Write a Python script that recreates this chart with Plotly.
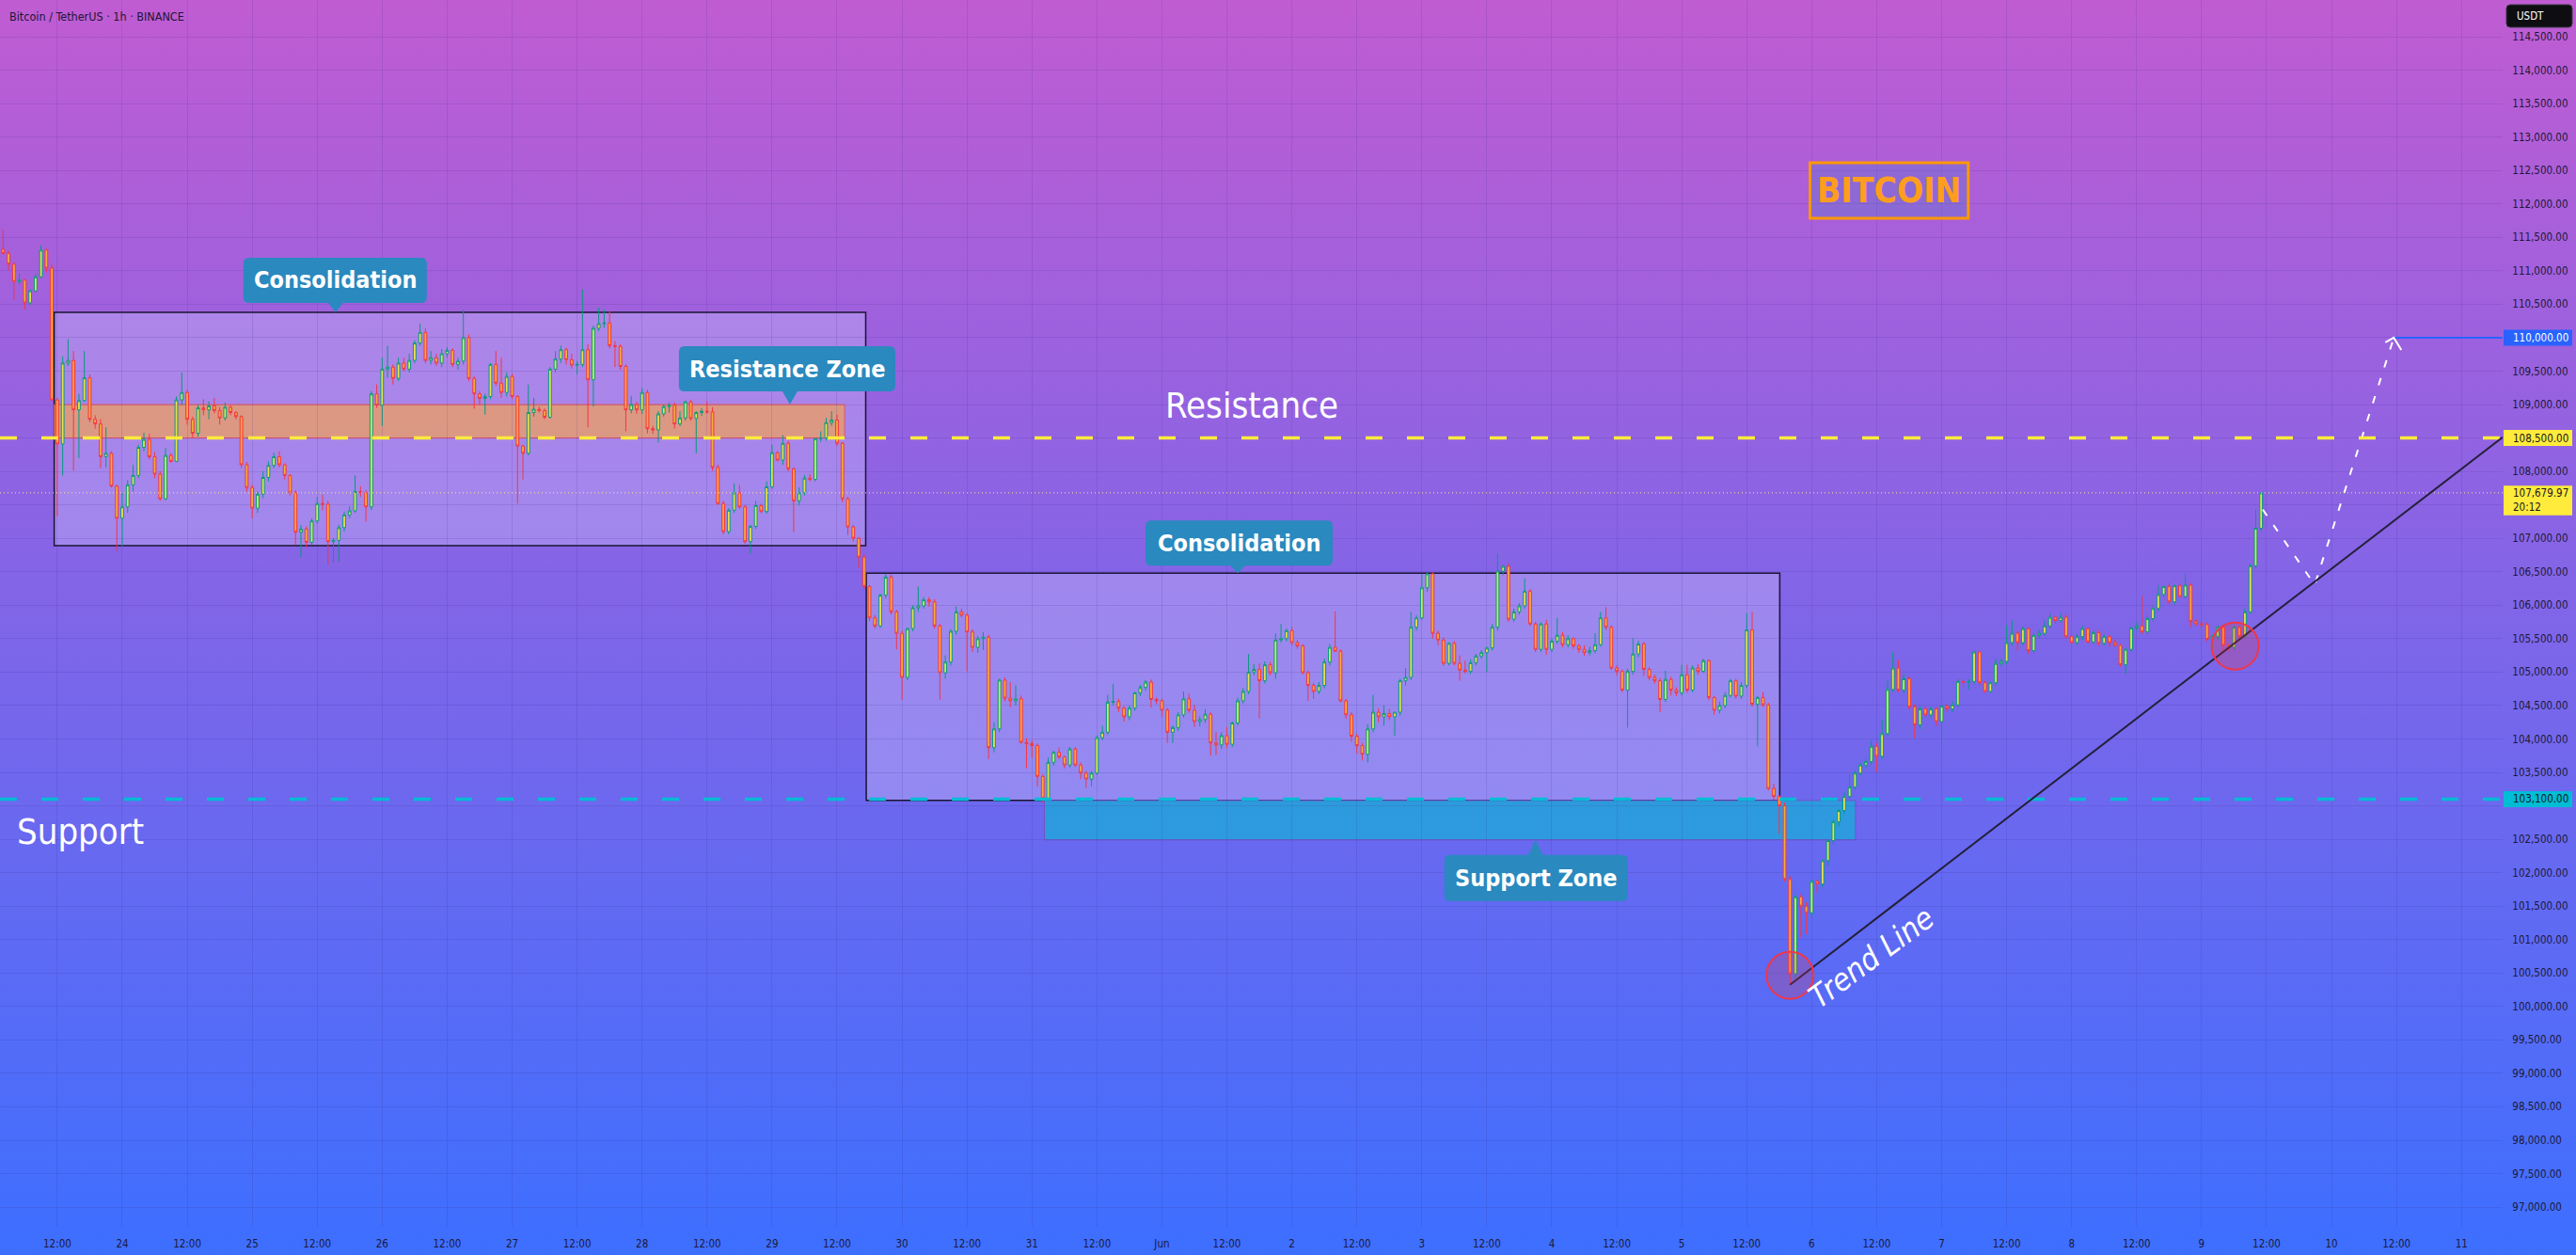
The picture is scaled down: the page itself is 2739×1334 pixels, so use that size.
import base64
import pandas as pd
import plotly.graph_objects as go

# ---------------------------------------------------------------- data
CANDLE_START = "2025-05-23 02:00"   # first visible hourly candle (BTC/USDT 1h)

opens = (
    [111320,111260,111100,110840,110860,110520,110700,110910,111310,111040,109070,108410,109620,109660,108920,109060,109400,108780,108710,108220,108270,107780]
  + [107300,107470,107800,107940,108360,108480,108220,107960,107590,108240,108150,109070,109180,108780,108570,108950,108920,108980,108910,108800,108960,108880,108820,108100]
  + [107760,107450,107660,107910,108090,108220,108100,107940,107680,107090,107140,106940,107260,107520,107510,106950,106970,107160,107350,107410,107700,107680,107470,109160]
  + [108990,109530,109560,109390,109620,109530,109660,109920,110080,109660,109700,109620,109760,109810,109600,109650,110000,109390,109160,109090,109120,109600,109320,109180]
  + [109420,109120,108380,108270,108880,108930,108910,108810,109530,109680,109820,109670,109590,109600,109820,109370,110140,110210,110220,109880,109870,109570,108920,109000]
  + [108920,109180,108640,108620,108860,108970,108990,108710,108800,109040,108790,108880,108900,108890,108060,107520,107100,107420,107680,107470,106950,107180,107490,107400]
  + [107770,108280,108170,108420,108040,107560,107680,107900,107880,108490,108500,108730,108770,108420,107590,107170,107000,106720,106280,105810,105690,106150,106420,105900]
  + [105580,104920,105650,105960,105990,106080,106050,105690,104990,105150,105610,105900,105850,105600,105370,105500,105520,103870,104150,104880,104610,104570,104600,103950]
  + [103930,103900,103440,103110,103650,103800,103730,103610,103850,103610,103490,103400,103490,104020,104100,104550,104560,104460,104330,104460,104690,104770,104850,104590]
  + [104570,104430,104100,104170,104360,104600,104430,104260,104290,104370,103940,103910,104050,103920,104240,104570,104710,105000,105040,104870,105110,104990,105480,105500]
  + [105620,105440,105390,104990,104800,104710,104800,105150,105370,105310,104570,104360,104040,103900,103770,104150,104400,104330,104380,104330,104400,104870,104920,105670]
  + [105810,106260,106470,105580,105480,105130,105430,105130,105030,105010,105140,105240,105290,105360,105670,106510,106580,105790,105900,105990,106210,105720,105340,105720]
  + [105340,105460,105550,105410,105500,105390,105340,105290,105320,105410,105810,105670,105060,105010,104730,105010,105270,105420,105040,104920,104870,104590,104890,104730]
  + [104690,104960,104730,105060,105010,105170,104620,104430,104500,104650,104870,104640,104800,105630,104520,104620,104510,103260,103140,103000,101900,100490,101640,101500]
  + [101400,101870,101830,102180,102480,102760,102930,103140,103280,103490,103610,103660,103890,103740,104080,104740,105060,104730,104900,104480,104210,104450,104360,104450]
  + [104260,104490,104450,104510,104860,104850,104860,105300,104840,104710,104840,105130,105160,105440,105580,105440,105650,105320,105550,105580,105690,105820,105770,105820]
  + [105530,105440,105530,105650,105450,105590,105430,105530,105440,105400,105110,105340,105660,105690,105600,105800,105950,106160,106280,106050,106290,106130,106300,105760]
  + [105720,105710,105490,105530,105670,105400,105370,105670,105530,105900,106590,107150]
)
highs = (
    [111610,111300,111120,110960,110880,110720,110960,111380,111330,111090,109100,109720,109980,109800,109160,109800,109450,108840,108780,108660,108300,107800]
  + [107680,107870,108100,108400,108580,108560,108290,108000,108350,108270,109120,109480,109220,108820,109000,109080,109050,109100,108960,109030,108990,108900,108840,108140]
  + [107800,107700,108000,108150,108280,108300,108120,107960,107720,107200,107180,107300,107620,107650,107560,107000,107200,107400,107480,107940,107780,107720,109200,109300]
  + [109700,109880,109600,109700,109700,109760,109960,110210,110140,109800,109760,109830,109860,109840,109700,110420,110050,109420,109200,109160,109620,109800,109700,109480]
  + [109460,109140,108400,109300,109100,108970,108940,109560,109800,109880,109850,109760,109650,110720,109900,110180,110450,110420,110400,109950,109900,109600,109130,109040]
  + [109250,109220,108680,108900,109000,109030,109030,108900,109060,109070,108900,108950,109050,108960,108100,107560,107450,107820,107800,107500,107200,107560,107520,107850]
  + [108400,108300,108540,108460,108060,107760,107950,107960,108500,108600,108800,108900,108850,108440,107620,107200,107020,106760,106300,105850,106170,106470,106460,105930]
  + [105620,105660,106000,106280,106120,106120,106090,105720,105250,105640,105980,105950,105880,105640,105540,105600,105560,104250,104900,104920,104850,104800,104650,104010]
  + [103980,103930,103470,103720,103820,103870,103750,103880,103880,103650,103520,103520,104050,104200,104660,104820,104600,104490,104500,104700,104810,104880,104890,104620]
  + [104600,104460,104200,104400,104710,104680,104510,104340,104450,104400,104100,104100,104180,104260,104620,104760,105270,105120,105130,105160,105150,105580,105720,105650]
  + [105680,105480,105420,105020,104840,104850,105200,105420,105910,105340,104600,104400,104080,103940,104220,104660,104460,104500,104450,104400,104900,105060,105900,105850]
  + [106470,106480,106490,105620,105520,105440,105460,105250,105170,105190,105270,105330,105380,105720,106770,106600,106620,105950,106030,106400,106240,105750,105740,105780]
  + [105500,105810,105600,105550,105520,105420,105400,105380,105580,105900,105970,105700,105100,105040,105050,105510,105470,105450,105070,104960,104910,105020,104930,104770]
  + [105110,105110,105100,105120,105200,105190,104640,104560,104700,104900,104900,104850,105880,105900,104640,104700,104540,103330,103160,103050,101950,101660,101680,101560]
  + [101900,101900,102200,102500,102790,102950,103210,103470,103520,103640,103700,103980,103940,104290,104870,105300,105180,104970,104940,104520,104490,104490,104480,104480]
  + [104520,104530,104560,104900,104900,104900,105310,105320,104870,104860,105200,105200,105700,105770,105620,105680,105660,105580,105640,105770,105880,105840,105880,105860]
  + [105560,105570,105690,105670,105620,105620,105560,105560,105490,105420,105350,105670,105740,106140,105840,105980,106300,106300,106330,106310,106320,106470,106330,105790]
  + [105750,105740,105560,105700,105700,105420,105700,105700,105950,106620,107430,107690]
)
lows = (
    [111240,111010,110560,110800,110420,110490,110680,110890,110980,109050,107330,107940,109580,108010,108200,109040,108740,108640,108050,108060,107760,106810]
  + [106880,107380,107700,107900,108300,108180,107900,107560,107570,108130,108140,109000,108700,108500,108520,108840,108780,108870,108700,108760,108840,108780,108050,107700]
  + [107300,107380,107600,107850,108050,108060,107880,107640,106900,106720,106860,106900,107220,107420,106600,106640,106650,107100,107300,107380,107620,107250,107420,108950]
  + [108680,109400,109300,109350,109500,109480,109620,109880,109620,109600,109580,109560,109700,109560,109520,109600,109350,108940,109000,108850,109080,109280,109100,109120]
  + [109080,107520,107880,108240,108820,108880,108780,108790,109480,109620,109600,109540,109450,109560,108660,108970,110100,110150,109840,109560,109520,108600,108870,108860]
  + [108860,108570,108560,108430,108820,108880,108640,108680,108760,108760,108270,108830,108860,108010,107500,107060,107060,107380,107440,106920,106770,107140,107380,107370]
  + [107740,108150,108100,108000,107090,107490,107640,107850,107850,108440,108460,108680,108380,107540,107050,106950,106560,106230,105760,105650,105660,106100,105860,105340]
  + [104590,104880,105610,105900,105950,105980,105650,104590,104900,105100,105560,105820,105010,105300,105290,105330,103700,103800,104100,104560,104480,104500,103930,103560]
  + [103720,103290,103050,103080,103600,103700,103560,103570,103580,103400,103270,103290,103460,103980,104060,104500,104400,104260,104280,104420,104640,104720,104470,104520]
  + [104330,103940,103940,104120,104320,104390,104180,104190,104240,103750,103760,103850,103860,103880,104200,104530,104670,104950,104310,104830,104950,104900,105440,105460]
  + [105400,105350,104970,104570,104600,104670,104760,105100,105300,104550,104300,103960,103780,103680,103650,104100,104250,104200,104280,104050,104350,104800,104880,105620]
  + [105780,106200,105500,105400,105090,105100,105100,104870,104980,104970,105100,105200,105000,105320,105620,106450,105750,105750,105860,105950,105690,105300,105300,105260]
  + [105300,105420,105370,105370,105350,105290,105240,105250,105280,105380,105630,105030,104950,104700,104170,104960,105220,104940,104880,104830,104400,104550,104650,104640]
  + [104650,104690,104700,104960,104990,104580,104360,104380,104460,104620,104600,104600,104760,104480,103890,104480,103230,103090,102580,101870,100330,100420,101030,101080]
  + [101350,101700,101780,102100,102420,102700,102880,103100,103240,103450,103560,103620,103510,103700,104040,104700,104700,104680,104440,104010,104150,104320,104310,104190]
  + [103860,104400,104400,104470,104780,104740,104820,104800,104690,104690,104800,105090,105120,105400,105320,105400,105270,105280,105500,105540,105650,105730,105740,105500]
  + [105410,105400,105480,105430,105420,105400,105400,105380,105380,105080,104970,105300,105620,105570,105560,105760,105910,106120,106020,106010,106110,106100,105670,105690]
  + [105660,105460,105300,105480,105290,105320,105330,105480,105500,105870,106550,107100]
)
closes = (
    [111260,111100,110840,110860,110520,110700,110910,111310,111040,109070,108410,109620,109660,108920,109060,109400,108780,108710,108220,108270,107780,107300]
  + [107470,107800,107940,108360,108480,108220,107960,107590,108240,108150,109070,109180,108780,108570,108950,108920,108980,108910,108800,108960,108880,108820,108100,107760]
  + [107450,107660,107910,108090,108220,108100,107940,107680,107090,107140,106940,107260,107520,107510,106950,106970,107160,107350,107410,107700,107680,107470,109160,108990]
  + [109530,109560,109390,109620,109530,109660,109920,110080,109660,109700,109620,109760,109810,109600,109650,110000,109390,109160,109090,109120,109600,109320,109180,109420]
  + [109120,108380,108270,108880,108930,108910,108810,109530,109680,109820,109670,109590,109600,109820,109370,110140,110210,110220,109880,109870,109570,108920,109000,108920]
  + [109180,108640,108620,108860,108970,108990,108710,108800,109040,108790,108880,108900,108890,108060,107520,107100,107420,107680,107470,106950,107180,107490,107400,107770]
  + [108280,108170,108420,108040,107560,107680,107900,107880,108490,108500,108730,108770,108420,107590,107170,107000,106720,106280,105810,105690,106150,106420,105900,105580]
  + [104920,105650,105960,105990,106080,106050,105690,104990,105150,105610,105900,105850,105600,105370,105500,105520,103870,104150,104880,104610,104570,104600,103950,103930]
  + [103900,103440,103110,103650,103800,103730,103610,103850,103610,103490,103400,103490,104020,104100,104550,104560,104460,104330,104460,104690,104770,104850,104590,104570]
  + [104430,104100,104170,104360,104600,104430,104260,104290,104370,103940,103910,104050,103920,104240,104570,104710,105000,105040,104870,105110,104990,105480,105500,105620]
  + [105440,105390,104990,104800,104710,104800,105150,105370,105310,104570,104360,104040,103900,103770,104150,104400,104330,104380,104330,104400,104870,104920,105670,105810]
  + [106260,106470,105580,105480,105130,105430,105130,105030,105010,105140,105240,105290,105360,105670,106510,106580,105790,105900,105990,106210,105720,105340,105720,105340]
  + [105460,105550,105410,105500,105390,105340,105290,105320,105410,105810,105670,105060,105010,104730,105010,105270,105420,105040,104920,104870,104590,104890,104730,104690]
  + [104960,104730,105060,105010,105170,104620,104430,104500,104650,104870,104640,104800,105630,104520,104620,104510,103260,103140,103000,101900,100490,101640,101500,101400]
  + [101870,101830,102180,102480,102760,102930,103140,103280,103490,103610,103660,103890,103740,104080,104740,105060,104730,104900,104480,104210,104450,104360,104450,104260]
  + [104490,104450,104510,104860,104850,104860,105300,104840,104710,104840,105130,105160,105440,105580,105440,105650,105320,105550,105580,105690,105820,105770,105820,105530]
  + [105440,105530,105650,105450,105590,105430,105530,105440,105400,105110,105340,105660,105690,105600,105800,105950,106160,106280,106050,106290,106130,106300,105760,105720]
  + [105710,105490,105530,105670,105400,105370,105670,105530,105900,106590,107150,107679.97]
)
assert len(opens) == len(highs) == len(lows) == len(closes)

x_tick_times = [
    "2025-05-23 12:00", "2025-05-24 00:00", "2025-05-24 12:00", "2025-05-25 00:00", "2025-05-25 12:00",
    "2025-05-26 00:00", "2025-05-26 12:00", "2025-05-27 00:00", "2025-05-27 12:00", "2025-05-28 00:00",
    "2025-05-28 12:00", "2025-05-29 00:00", "2025-05-29 12:00", "2025-05-30 00:00", "2025-05-30 12:00",
    "2025-05-31 00:00", "2025-05-31 12:00", "2025-06-01 00:00", "2025-06-01 12:00", "2025-06-02 00:00",
    "2025-06-02 12:00", "2025-06-03 00:00", "2025-06-03 12:00", "2025-06-04 00:00", "2025-06-04 12:00",
    "2025-06-05 00:00", "2025-06-05 12:00", "2025-06-06 00:00", "2025-06-06 12:00", "2025-06-07 00:00",
    "2025-06-07 12:00", "2025-06-08 00:00", "2025-06-08 12:00", "2025-06-09 00:00", "2025-06-09 12:00",
    "2025-06-10 00:00", "2025-06-10 12:00", "2025-06-11 00:00"]
x_tick_labels = [
    "12:00", "24", "12:00", "25", "12:00", "26", "12:00", "27", "12:00", "28", "12:00", "29",
    "12:00", "30", "12:00", "31", "12:00", "Jun", "12:00", "2", "12:00", "3", "12:00", "4",
    "12:00", "5", "12:00", "6", "12:00", "7", "12:00", "8", "12:00", "9", "12:00", "10", "12:00", "11"]
y_tick_values = [
    97000, 97500, 98000, 98500, 99000, 99500, 100000, 100500, 101000, 101500, 102000, 102500,
    103000, 103500, 104000, 104500, 105000, 105500, 106000, 106500, 107000, 107500, 108000, 108500,
    109000, 109500, 110000, 110500, 111000, 111500, 112000, 112500, 113000, 113500, 114000, 114500]
# axis prices that sit under a coloured price tag in the reference
y_ticks_under_tags = [103000, 107500, 108500, 110000]
y_tick_labels = ["" if v in y_ticks_under_tags else f"{v:,.2f}" for v in y_tick_values]

RESISTANCE = 108500
SUPPORT = 103100
TARGET = 110000
LAST_PRICE = 107679.97
COUNTDOWN = "20:12"

consolidation_1 = dict(start="2025-05-23 11:26", end="2025-05-29 17:18", low=106890, high=110380)
resistance_zone = dict(start="2025-05-23 11:26", end="2025-05-29 13:24", low=108500, high=109000)
consolidation_2 = dict(start="2025-05-29 17:24", end="2025-06-05 18:06", low=103080, high=106480)
support_zone = dict(start="2025-05-31 02:18", end="2025-06-06 08:06", low=102490, high=103080)
trend_line = dict(t0="2025-06-05 20:00", p0=100325, t1="2025-06-11 07:36", p1=108510)
touch_points = [("2025-06-05 20:00", 100466), ("2025-06-09 06:12", 105390)]
projection_times = ["2025-06-09 11:18", "2025-06-09 20:54", "2025-06-10 11:30"]
projection_prices = [107430, 106304, 110000]
bitcoin_box = dict(start="2025-06-05 23:42", end="2025-06-07 04:54", low=111785, high=112615)

X_RANGE = ["2025-05-23 01:25:30", "2025-06-11 07:36"]
Y_RANGE = [96706, 115049]

# ---------------------------------------------------------------- style
W, H = 2739, 1334
M_R, M_B = 78, 30
TOP_COL, BOT_COL = "#C05CD2", "#3D6FFF"
GRID = "rgba(50,30,130,0.13)"
AXFONT = "DejaVu Sans Condensed, DejaVu Sans, sans-serif"
AXCOL = "#1d1838"
CALLOUT = "#2A89BE"

times = pd.date_range(CANDLE_START, periods=len(closes), freq="h")

fig = go.Figure()
fig.add_trace(go.Candlestick(
    x=times, open=opens, high=highs, low=lows, close=closes,
    increasing=dict(line=dict(color="#089981", width=1), fillcolor="#E6E24E"),
    decreasing=dict(line=dict(color="#F23645", width=1), fillcolor="#F5AB3A"),
    whiskerwidth=0, hoverinfo="skip", showlegend=False))

fig.add_trace(go.Scatter(
    x=projection_times, y=projection_prices, mode="lines",
    line=dict(color="white", width=2, dash="8px,12px"), hoverinfo="skip", showlegend=False))

svg = (f"<svg xmlns='http://www.w3.org/2000/svg' width='{W}' height='{H}' viewBox='0 0 {W} {H}' "
       f"preserveAspectRatio='none'><defs><linearGradient id='g' x1='0' y1='0' x2='0' y2='1'>"
       f"<stop offset='0' stop-color='{TOP_COL}'/><stop offset='1' stop-color='{BOT_COL}'/>"
       f"</linearGradient></defs><rect x='0' y='0' width='{W}' height='{H}' fill='url(#g)'/></svg>")
bg_src = "data:image/svg+xml;base64," + base64.b64encode(svg.encode()).decode()

shapes = []
annotations = []

# zones (below candles)
for z in (consolidation_1, consolidation_2):
    shapes.append(dict(type="rect", xref="x", yref="y", x0=z["start"], x1=z["end"], y0=z["low"], y1=z["high"],
                       fillcolor="rgba(192,178,246,0.45)", line=dict(color="#1a1430", width=1.5), layer="below"))
shapes.append(dict(type="rect", xref="x", yref="y", x0=resistance_zone["start"], x1=resistance_zone["end"],
                   y0=resistance_zone["low"], y1=resistance_zone["high"],
                   fillcolor="rgba(240,160,92,0.72)", line=dict(color="rgba(235,70,80,0.8)", width=1), layer="below"))
shapes.append(dict(type="rect", xref="x", yref="y", x0=support_zone["start"], x1=support_zone["end"],
                   y0=support_zone["low"], y1=support_zone["high"],
                   fillcolor="rgba(38,160,220,0.88)", line=dict(color="rgba(120,80,200,1)", width=1), layer="below"))

# horizontal levels
shapes.append(dict(type="line", xref="paper", x0=0, x1=1, yref="y", y0=RESISTANCE, y1=RESISTANCE,
                   line=dict(color="#FFEB3B", width=3.5, dash="18px,26px"), layer="above"))
shapes.append(dict(type="line", xref="paper", x0=0, x1=1, yref="y", y0=SUPPORT, y1=SUPPORT,
                   line=dict(color="#00BCD4", width=3.5, dash="18px,26px"), layer="above"))
shapes.append(dict(type="line", xref="paper", x0=0, x1=1, yref="y", y0=LAST_PRICE, y1=LAST_PRICE,
                   line=dict(color="rgba(255,236,150,0.95)", width=1, dash="1px,3px"), layer="above"))
shapes.append(dict(type="line", xref="x", yref="y", x0=projection_times[-1], x1=X_RANGE[1], y0=TARGET, y1=TARGET,
                   line=dict(color="#2962FF", width=2), layer="above"))

# trend line
shapes.append(dict(type="line", xref="x", yref="y", x0=trend_line["t0"], y0=trend_line["p0"],
                   x1=trend_line["t1"], y1=trend_line["p1"], line=dict(color="#24203a", width=2), layer="above"))

# touch circles
for t, p in touch_points:
    shapes.append(dict(type="circle", xref="x", yref="y", xsizemode="pixel", ysizemode="pixel",
                       xanchor=t, yanchor=p, x0=-25, x1=25, y0=-25, y1=25,
                       fillcolor="rgba(242,54,69,0.22)", line=dict(color="#F23645", width=2), layer="above"))

# arrow head at end of projection
shapes.append(dict(type="path", xref="x", yref="y", xsizemode="pixel", ysizemode="pixel",
                   xanchor=projection_times[-1], yanchor=projection_prices[-1],
                   path="M -9,-5 L 0,0 L 8,-13", line=dict(color="white", width=2), layer="above"))

# BITCOIN box
shapes.append(dict(type="rect", xref="x", yref="y", x0=bitcoin_box["start"], x1=bitcoin_box["end"],
                   y0=bitcoin_box["low"], y1=bitcoin_box["high"],
                   fillcolor="rgba(70,130,205,0.3)", line=dict(color="#FF9800", width=3), layer="above"))
annotations.append(dict(x="2025-06-06 14:18", y=(bitcoin_box["low"] + bitcoin_box["high"]) / 2, xref="x", yref="y",
                        text="<b>BITCOIN</b>", showarrow=False, xanchor="center", yanchor="middle",
                        font=dict(family=AXFONT, size=37, color="#FF9D1E")))


def callout_path(xl, xr, base, top, pw=8, r=6):
    s = 1 if top > base else -1
    return (f"M 0,0 L {pw},{base} L {xr - r},{base} Q {xr},{base} {xr},{base + s * r} "
            f"L {xr},{top - s * r} Q {xr},{top} {xr - r},{top} L {xl + r},{top} "
            f"Q {xl},{top} {xl},{top - s * r} L {xl},{base + s * r} Q {xl},{base} {xl + r},{base} "
            f"L {-pw},{base} Z")


callouts = [
    ("Consolidation", "2025-05-25 15:24", consolidation_1["high"], -98, 97, 10, 58),
    ("Resistance Zone", "2025-05-29 03:18", resistance_zone["high"], -118, 112, 14, 62),
    ("Consolidation", "2025-06-01 14:00", consolidation_2["high"], -98, 101, 8, 56),
    ("Support Zone", "2025-06-03 21:00", support_zone["low"], -97, 98, -16, -65),
]
for text, t, p, xl, xr, base, top in callouts:
    shapes.append(dict(type="path", xref="x", yref="y", xsizemode="pixel", ysizemode="pixel",
                       xanchor=t, yanchor=p, path=callout_path(xl, xr, base, top),
                       fillcolor=CALLOUT, line=dict(width=0), layer="above"))
    annotations.append(dict(x=t, y=p, xref="x", yref="y", text=f"<b>{text}</b>", showarrow=False,
                            xanchor="center", yanchor="middle", xshift=(xl + xr) / 2, yshift=(base + top) / 2,
                            font=dict(family=AXFONT, size=25, color="white")))

# free texts
annotations.append(dict(x="2025-06-01 16:36", y=108986, xref="x", yref="y", text="Resistance", showarrow=False,
                        xanchor="center", yanchor="middle", font=dict(family=AXFONT, size=38, color="white")))
annotations.append(dict(x="2025-05-23 16:18", y=102614, xref="x", yref="y", text="Support", showarrow=False,
                        xanchor="center", yanchor="middle", font=dict(family=AXFONT, size=38, color="white")))
annotations.append(dict(x="2025-06-06 11:00", y=100743, xref="x", yref="y", text="<i>Trend Line</i>",
                        showarrow=False, textangle=-36.5, xanchor="center", yanchor="middle",
                        font=dict(family=AXFONT, size=33, color="white")))

# title
annotations.append(dict(x=0, y=1, xref="paper", yref="paper", xanchor="left", yanchor="middle", xshift=8, yshift=-17,
                        text="Bitcoin / TetherUS · 1h · BINANCE", showarrow=False,
                        font=dict(family=AXFONT, size=12.5, color="#1c1533")))

# USDT badge
shapes.append(dict(type="path", xref="paper", yref="paper", xsizemode="pixel", ysizemode="pixel",
                   xanchor=1, yanchor=1,
                   path="M 8,-5 L 70,-5 Q 74,-5 74,-9 L 74,-25 Q 74,-29 70,-29 L 8,-29 Q 4,-29 4,-25 L 4,-9 Q 4,-5 8,-5 Z",
                   fillcolor="#0e0e12", line=dict(color="#3a3a44", width=1), layer="above"))
annotations.append(dict(x=1, y=1, xref="paper", yref="paper", xanchor="left", yanchor="middle", xshift=13, yshift=-17,
                        text="USDT", showarrow=False, font=dict(family=AXFONT, size=11.5, color="white")))


# price-axis labels
def price_tag(price, bg, fg, text, y0=-8.5, y1=8.5):
    shapes.append(dict(type="rect", xref="paper", yref="y", xsizemode="pixel", ysizemode="pixel",
                       xanchor=1, yanchor=price, x0=1, x1=74, y0=y0, y1=y1,
                       fillcolor=bg, line=dict(width=0), layer="above"))
    annotations.append(dict(x=1, y=price, xref="paper", yref="y", xanchor="left", yanchor="middle", xshift=9,
                            text=text, showarrow=False, font=dict(family=AXFONT, size=11.5, color=fg)))


price_tag(TARGET, "#2962FF", "white", f"{TARGET:,.2f}")
price_tag(RESISTANCE, "#FFEB3B", "#131722", f"{RESISTANCE:,.2f}")
price_tag(SUPPORT, "#00BCD4", "#131722", f"{SUPPORT:,.2f}")
price_tag(LAST_PRICE, "#FFEB3B", "#131722", f"{LAST_PRICE:,.2f}", y0=-24, y1=7.5)
annotations.append(dict(x=1, y=LAST_PRICE, xref="paper", yref="y", xanchor="left", yanchor="middle", xshift=9,
                        yshift=-15, text=COUNTDOWN, showarrow=False,
                        font=dict(family=AXFONT, size=11.5, color="#131722")))

fig.update_layout(
    width=W, height=H, margin=dict(l=0, r=M_R, t=0, b=M_B, pad=0),
    paper_bgcolor="rgba(0,0,0,0)", plot_bgcolor="rgba(0,0,0,0)", showlegend=False,
    images=[dict(source=bg_src, xref="paper", yref="paper", x=0, y=1, sizex=W / (W - M_R), sizey=H / (H - M_B),
                 xanchor="left", yanchor="top", sizing="stretch", layer="below")],
    xaxis=dict(type="date", range=X_RANGE, rangeslider=dict(visible=False), tickvals=x_tick_times,
               ticktext=x_tick_labels, showgrid=True, gridcolor=GRID, gridwidth=1, zeroline=False,
               showline=False, ticks="outside", ticklen=7, tickcolor="rgba(0,0,0,0)",
               tickfont=dict(family=AXFONT, size=11.5, color=AXCOL)),
    yaxis=dict(side="right", range=Y_RANGE, tickvals=y_tick_values, ticktext=y_tick_labels, showgrid=True,
               gridcolor=GRID, gridwidth=1, zeroline=False, showline=False, ticks="outside", ticklen=7,
               tickcolor="rgba(0,0,0,0)", tickfont=dict(family=AXFONT, size=11.5, color=AXCOL)),
    shapes=shapes, annotations=annotations, hovermode=False,
)

fig.write_html("out.html", config={"displayModeBar": False})
